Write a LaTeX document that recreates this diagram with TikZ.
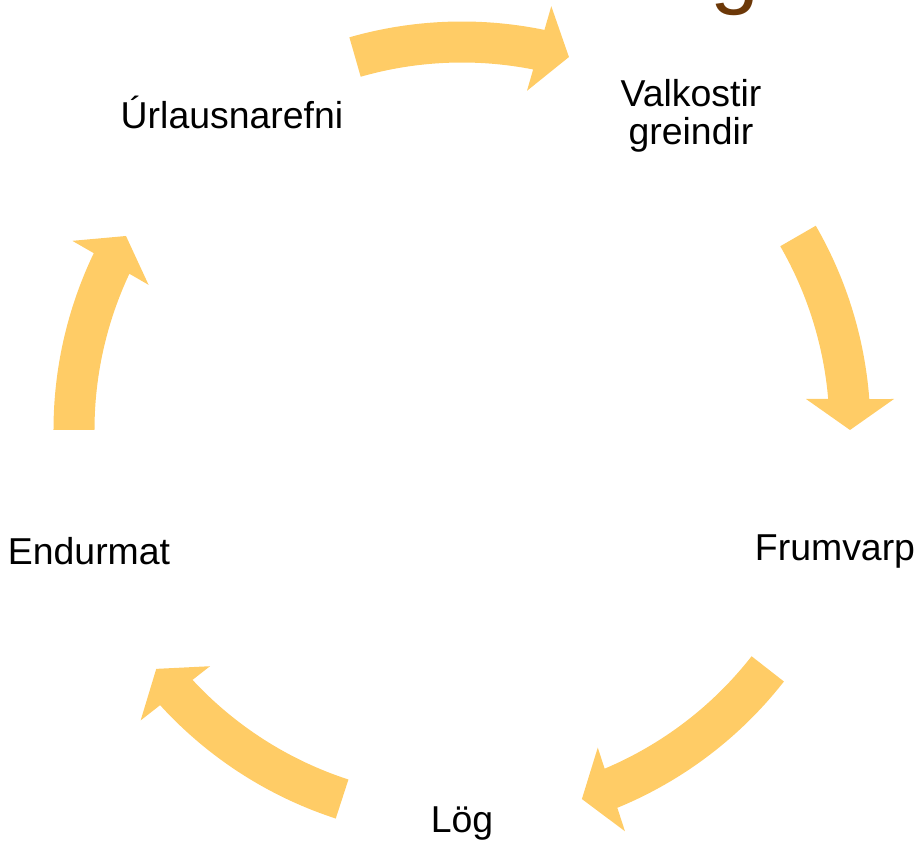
\documentclass[tikz,border=0pt]{standalone}
\usepackage{fontspec}
\setmainfont{Liberation Sans}
\usetikzlibrary{calc,positioning}
\definecolor{arrowyellow}{RGB}{255,204,102}
\definecolor{titlebrown}{RGB}{108,56,8}

% curved block arrow, clockwise from angle #1 to the tip at angle #2
\newcommand{\cyclearrow}[2]{%
\fill[arrowyellow] (#1:408.5) arc[start angle=#1,end angle=#2+4.35,radius=408.5]
  -- ($(#2:432)+({#2+90}:31)$) -- (#2:388) -- ($(#2:344)+({#2+90}:31)$)
  -- ({#2+4.84}:367.5) arc[start angle=#2+4.84,end angle=#1,radius=367.5] -- cycle;}

\begin{document}
\begin{tikzpicture}[x=0.02cm,y=0.02cm]
\tikzstyle{phase}=[font=\fontsize{21.3}{21.8}\selectfont,
align=center,inner sep=0pt]
\useasboundingbox (-462,-411) rectangle (457,430);
\clip (-462,-411) rectangle (457,430);
\node[font=\fontsize{50}{50}\selectfont,text=titlebrown,anchor=base] (title) at (273,432) {g};

\node[phase] at (-230,318) (urlausn) {Úrlausnarefni};
\node[phase] at (229,314) (valkost) {Valkostir\\greindir};
\node[phase] at (373,-122) (frumvarp) {Frumvarp};
\node[phase] at (0,-394) (log) {Lög};
\node[phase] at (-373,-121) (endurmat) {Endurmat};

\cyclearrow{106}{74}
\cyclearrow{30}{0}
\cyclearrow{-38}{-72}
\cyclearrow{-108}{-142}
\cyclearrow{180}{150}

\end{tikzpicture}
\end{document}
